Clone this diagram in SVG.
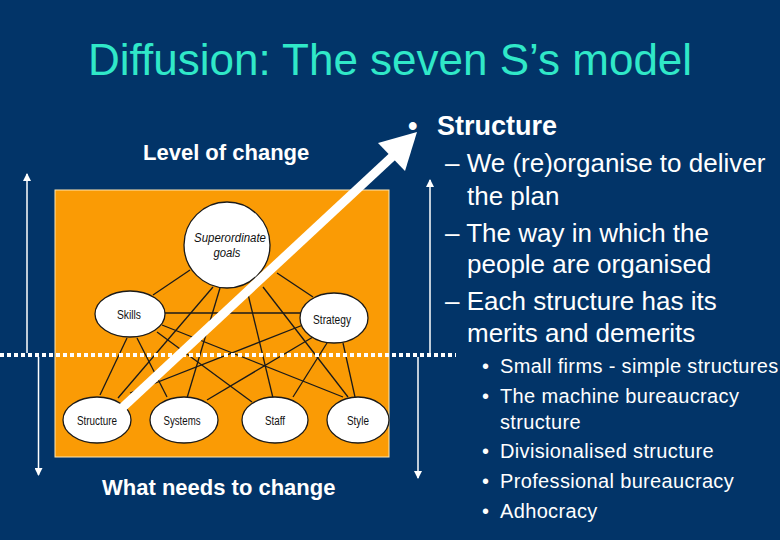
<svg xmlns="http://www.w3.org/2000/svg" width="780" height="540" viewBox="0 0 780 540">
<defs>
<style>
.t{font-family:"Liberation Sans",Arial,sans-serif;fill:#FFFFFF}
.nl{font-family:"Liberation Sans",Arial,sans-serif;font-size:12.5px;fill:#111;text-anchor:middle}
.node{fill:#FFFFFF;stroke:#1a1a1a;stroke-width:1.3}
.con line{stroke:#1a1a1a;stroke-width:1.3}
.thin{stroke:#FFFFFF;stroke-width:1.5;fill:none}
</style>
<marker id="ah" markerWidth="8" markerHeight="8" refX="7" refY="4" orient="auto" markerUnits="userSpaceOnUse">
<path d="M0,0 L8,4 L0,8 Z" fill="#FFFFFF"/>
</marker>
</defs>
<rect x="0" y="0" width="780" height="540" fill="#023468"/>
<text class="t" x="88" y="75" font-size="44" style="fill:#30E8C8">Diffusion: The seven S’s model</text>

<rect x="55" y="190" width="334" height="267" fill="#FA9B05" stroke="#FFE6B0" stroke-width="1"/>

<g id="connectors" class="con">
<line x1="190" y1="270" x2="153" y2="295"/>
<line x1="277" y1="273" x2="313" y2="297"/>
<line x1="165" y1="313" x2="303" y2="313"/>
<line x1="213" y1="287" x2="118" y2="398"/>
<line x1="220" y1="288" x2="187" y2="398"/>
<line x1="247" y1="290" x2="273" y2="398"/>
<line x1="263" y1="287" x2="348" y2="397"/>
<line x1="127" y1="338" x2="100" y2="395"/>
<line x1="137" y1="338" x2="167" y2="397"/>
<line x1="157" y1="332" x2="252" y2="402"/>
<line x1="162" y1="325" x2="343" y2="397"/>
<line x1="303" y1="325" x2="130" y2="393"/>
<line x1="313" y1="337" x2="207" y2="400"/>
<line x1="327" y1="343" x2="293" y2="397"/>
<line x1="343" y1="343" x2="355" y2="397"/>
</g>

<g id="superordinate"><circle class="node" cx="227" cy="245" r="43"/><text class="nl" x="230" y="242" font-style="italic" textLength="72" lengthAdjust="spacingAndGlyphs">Superordinate</text><text class="nl" x="227" y="257" font-style="italic" textLength="27" lengthAdjust="spacingAndGlyphs">goals</text></g>
<g id="skills"><ellipse class="node" cx="130" cy="314" rx="35" ry="23"/><text class="nl" x="129" y="319" textLength="24" lengthAdjust="spacingAndGlyphs">Skills</text></g>
<g id="strategy"><ellipse class="node" cx="334" cy="318" rx="34" ry="25"/><text class="nl" x="332" y="324" textLength="38" lengthAdjust="spacingAndGlyphs">Strategy</text></g>
<g id="structure"><ellipse class="node" cx="97" cy="420" rx="34" ry="23"/><text class="nl" x="97" y="425" textLength="40" lengthAdjust="spacingAndGlyphs">Structure</text></g>
<g id="systems"><ellipse class="node" cx="184" cy="420" rx="34" ry="23"/><text class="nl" x="182" y="425" textLength="37" lengthAdjust="spacingAndGlyphs">Systems</text></g>
<g id="staff"><ellipse class="node" cx="275" cy="420" rx="33" ry="23"/><text class="nl" x="275" y="425" textLength="20" lengthAdjust="spacingAndGlyphs">Staff</text></g>
<g id="style"><ellipse class="node" cx="358" cy="420" rx="31" ry="23"/><text class="nl" x="358" y="425" textLength="22" lengthAdjust="spacingAndGlyphs">Style</text></g>

<g id="level-arrows">
<line x1="0" y1="355" x2="456" y2="355" stroke="#FFFFFF" stroke-width="4" stroke-dasharray="4 3"/>
<line class="thin" x1="27" y1="353" x2="27" y2="174" marker-end="url(#ah)"/>
<line class="thin" x1="38.5" y1="357" x2="38.5" y2="475" marker-end="url(#ah)"/>
<line class="thin" x1="430" y1="353" x2="430" y2="180" marker-end="url(#ah)"/>
<line class="thin" x1="418" y1="357" x2="418" y2="478" marker-end="url(#ah)"/>
</g>

<g id="big-arrow">
<line x1="122" y1="408" x2="394" y2="155" stroke="#FFFFFF" stroke-width="9"/>
<polygon points="417,132 378,143 405,171" fill="#FFFFFF"/>
</g>

<text class="t" x="143" y="160" font-size="22" font-weight="bold">Level of change</text>
<text class="t" x="102" y="495" font-size="22" font-weight="bold">What needs to change</text>

<g id="text-right">
<text class="t" x="408" y="135" font-size="27" font-weight="bold">•</text>
<text class="t" x="437" y="135" font-size="27" font-weight="bold">Structure</text>
<text class="t" x="445" y="172" font-size="26">– We (re)organise to deliver</text>
<text class="t" x="467" y="205" font-size="26">the plan</text>
<text class="t" x="445" y="242" font-size="26">– The way in which the</text>
<text class="t" x="467" y="273" font-size="26">people are organised</text>
<text class="t" x="445" y="310" font-size="26">– Each structure has its</text>
<text class="t" x="467" y="342" font-size="26">merits and demerits</text>
<g font-size="20" letter-spacing="0.35">
<text class="t" x="482" y="373">•</text><text class="t" x="500" y="373">Small firms - simple structures</text>
<text class="t" x="482" y="403">•</text><text class="t" x="500" y="403">The machine bureaucracy</text>
<text class="t" x="500" y="429">structure</text>
<text class="t" x="482" y="458">•</text><text class="t" x="500" y="458">Divisionalised structure</text>
<text class="t" x="482" y="488">•</text><text class="t" x="500" y="488">Professional bureaucracy</text>
<text class="t" x="482" y="518">•</text><text class="t" x="500" y="518">Adhocracy</text>
</g>
</g>
</svg>
